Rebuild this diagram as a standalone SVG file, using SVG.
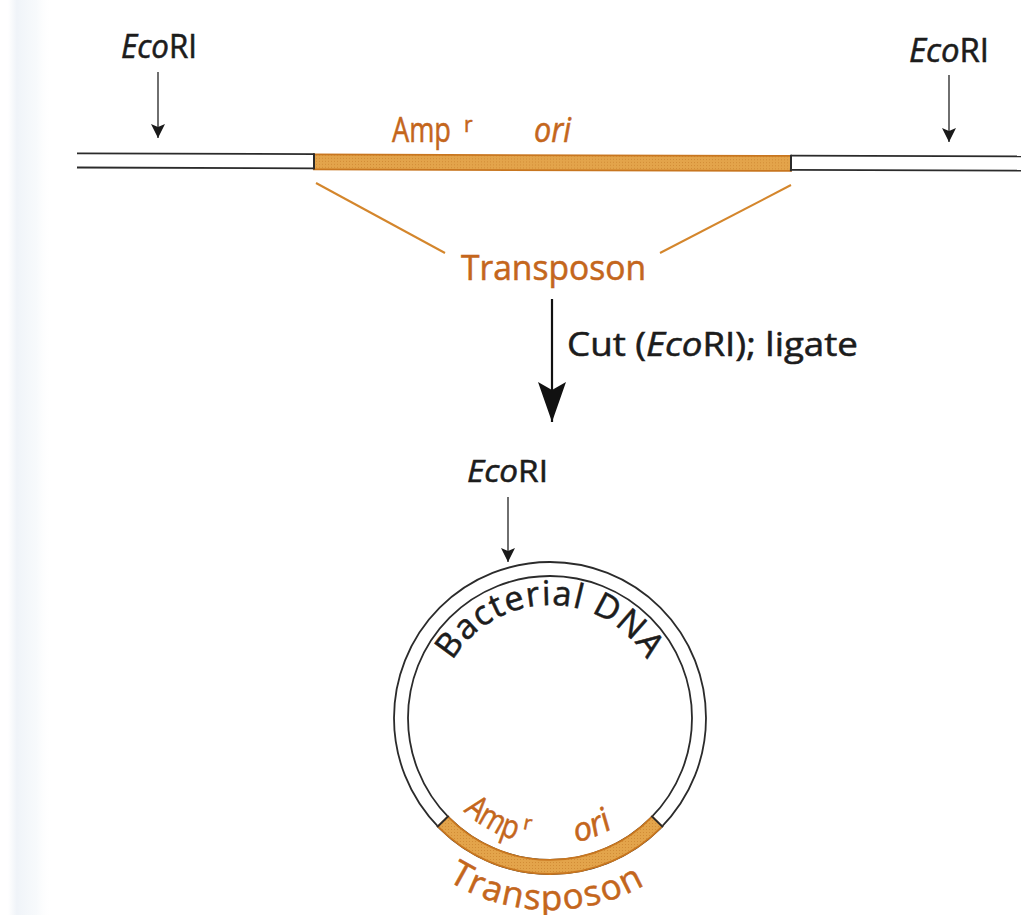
<svg xmlns="http://www.w3.org/2000/svg" xmlns:xlink="http://www.w3.org/1999/xlink" width="1021" height="915" viewBox="0 0 1021 915">
  <defs>
    <style>
      .txt { font-family: "Open Sans", "Noto Sans", "DejaVu Sans", sans-serif; fill: #1c1c1c; stroke: #1c1c1c; stroke-width: 0.55; }
      .org { fill: #c4661c; stroke: #c4661c; }
      .it { font-style: italic; }
      .strand { stroke: #2b2b2b; stroke-width: 1.8; fill: none; }
      .cap { stroke: #2b2b2b; stroke-width: 2; }
      .seg { fill: url(#stipple); stroke: #c8761f; stroke-width: 1.8; }
      .bracket { stroke: #d4862c; stroke-width: 2; fill: none; }
      .pin { stroke: #333; stroke-width: 1.4; fill: none; }
    </style>
    <linearGradient id="paperEdge" x1="0" y1="0" x2="1" y2="0">
      <stop offset="0" stop-color="#e9eff6" stop-opacity="0"/>
      <stop offset="0.2" stop-color="#e9eff6" stop-opacity="0.7"/>
      <stop offset="0.65" stop-color="#eef3f8" stop-opacity="0.45"/>
      <stop offset="1" stop-color="#ffffff" stop-opacity="0"/>
    </linearGradient>
    <pattern id="stipple" width="3" height="3" patternUnits="userSpaceOnUse">
      <rect width="3" height="3" fill="#e3a44b"/>
      <rect x="1" y="1" width="1" height="1" fill="#d28c36"/>
    </pattern>
    <marker id="tipS" viewBox="0 0 14 14" refX="14" refY="7" markerWidth="14" markerHeight="14" markerUnits="userSpaceOnUse" orient="auto">
      <path d="M0,0 L14,7 L0,14 L3,7 Z" fill="#1a1a1a"/>
    </marker>
    <marker id="tipL" viewBox="0 0 40 28" refX="40" refY="14" markerWidth="40" markerHeight="28" markerUnits="userSpaceOnUse" orient="auto">
      <path d="M0,0 L40,14 L0,28 L8,14 Z" fill="#111"/>
    </marker>
    <!-- arcs used as baselines for the circular labels (centre 550,718) -->
    <path id="arcTop" d="M 437 718 A 113 113 0 0 1 663 718"/>
    <path id="arcIn" d="M 423 718 A 127 127 0 0 0 677 718"/>
    <path id="arcOut" d="M 358 718 A 192 192 0 0 0 742 718"/>
  </defs>

  <!-- paper -->
  <rect width="1021" height="915" fill="#ffffff"/>
  <rect x="8" y="0" width="44" height="915" fill="url(#paperEdge)"/>

  <!-- linear DNA with inserted transposon -->
  <g id="linear-dna" transform="rotate(0.19 77 160)">
    <line class="strand" x1="77" y1="153.3" x2="314" y2="153.3"/>
    <line class="strand" x1="77" y1="167.5" x2="314" y2="167.5"/>
    <line class="strand" x1="791" y1="153.3" x2="1030" y2="153.3"/>
    <line class="strand" x1="791" y1="167.5" x2="1030" y2="167.5"/>
    <rect class="seg" x="314" y="153.6" width="477" height="15"/>
    <line class="cap" x1="314" y1="152.4" x2="314" y2="168.8"/>
    <line class="cap" x1="791" y1="152.4" x2="791" y2="168.8"/>
  </g>

  <g id="transposon-markers">
    <text class="txt org" x="392" y="142" font-size="34" textLength="59" lengthAdjust="spacingAndGlyphs">Amp</text>
    <text class="txt org" x="464" y="132" font-size="21">r</text>
    <text class="txt org it" x="534" y="142" font-size="34" textLength="37" lengthAdjust="spacingAndGlyphs">ori</text>
  </g>

  <g id="ecori-left">
    <text class="txt" x="121" y="58" font-size="32" textLength="76" lengthAdjust="spacingAndGlyphs"><tspan class="it">Eco</tspan>RI</text>
  </g>
  <g id="ecori-right">
    <text class="txt" x="909" y="62" font-size="32" textLength="80" lengthAdjust="spacingAndGlyphs"><tspan class="it">Eco</tspan>RI</text>
  </g>

  <g id="transposon-label">
    <text class="txt org" x="461" y="280" font-size="34" textLength="185" lengthAdjust="spacingAndGlyphs">Transposon</text>
  </g>

  <g id="step-label">
    <text class="txt" x="567" y="356" font-size="33" textLength="291" lengthAdjust="spacingAndGlyphs">Cut (<tspan class="it">Eco</tspan>RI); ligate</text>
  </g>

  <g id="ecori-circle">
    <text class="txt" x="467" y="482" font-size="31" textLength="81" lengthAdjust="spacingAndGlyphs"><tspan class="it">Eco</tspan>RI</text>
  </g>

  <!-- circular bacterial DNA carrying the transposon -->
  <g id="circular-dna">
    <circle class="strand" cx="550" cy="718" r="156"/>
    <circle class="strand" cx="550" cy="718" r="142"/>
    <path class="seg" d="M 662.2 826.4 A 156 156 0 0 1 437.8 826.4 L 447.9 816.6 A 142 142 0 0 0 652.1 816.6 Z"/>
    <line class="cap" x1="662.9" y1="827.1" x2="651.4" y2="815.9"/>
    <line class="cap" x1="437.1" y1="827.1" x2="448.6" y2="815.9"/>
    <text class="txt" font-size="34" letter-spacing="1.2"><textPath href="#arcTop" startOffset="50%" text-anchor="middle">Bacterial DNA</textPath></text>
    <text class="txt org" font-size="33"><textPath href="#arcIn" startOffset="104" textLength="60" lengthAdjust="spacingAndGlyphs">Amp</textPath></text>
    <text class="txt org" font-size="20"><textPath href="#arcIn" startOffset="169"><tspan dy="-13">r</tspan></textPath></text>
    <text class="txt org it" font-size="33"><textPath href="#arcIn" startOffset="226" textLength="40" lengthAdjust="spacingAndGlyphs">ori</textPath></text>
    <text class="txt org" font-size="35" letter-spacing="1.6"><textPath href="#arcOut" startOffset="49.4%" text-anchor="middle">Transposon</textPath></text>
  </g>

  <!-- connectors -->
  <g id="connectors">
    <line class="pin" x1="158" y1="72" x2="158" y2="138" marker-end="url(#tipS)"/>
    <line class="pin" x1="949" y1="75" x2="949" y2="142" marker-end="url(#tipS)"/>
    <line class="pin" x1="508" y1="497" x2="508" y2="562" marker-end="url(#tipS)"/>
    <line class="bracket" x1="316" y1="183" x2="445" y2="253"/>
    <line class="bracket" x1="791" y1="185" x2="660" y2="253"/>
    <line x1="552" y1="299" x2="552" y2="422" stroke="#111" stroke-width="2.2" marker-end="url(#tipL)"/>
  </g>
</svg>
